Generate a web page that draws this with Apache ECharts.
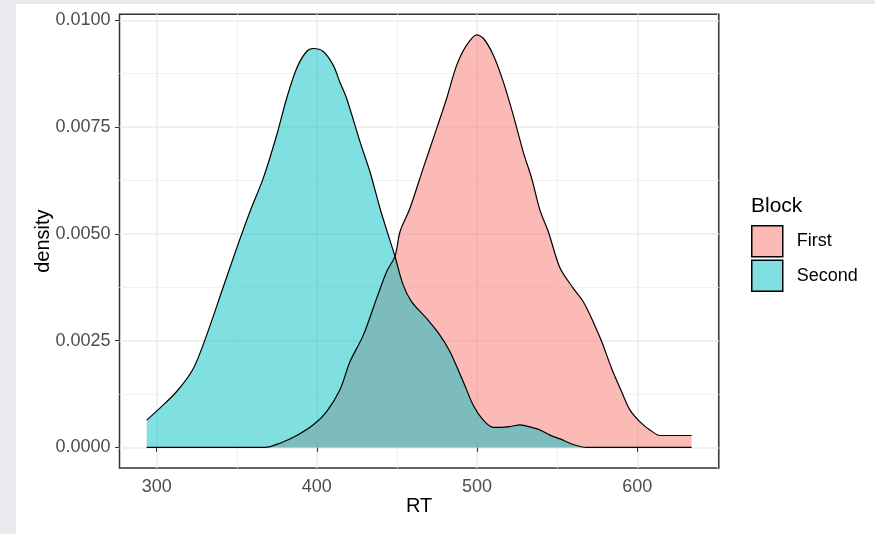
<!DOCTYPE html>
<html><head><meta charset="utf-8">
<script src="https://cdn.jsdelivr.net/npm/echarts@6/dist/echarts.min.js"></script>
<style>
html,body{margin:0;padding:0;background:#e9eaed;width:875px;height:534px;overflow:hidden}
#c{position:absolute;left:16px;top:4px;width:859px;height:530px;background:#fff}
</style></head><body><div id="c"></div>
<script>
// ---- data ----
const seriesNames = ['First', 'Second'];
const rtFirst = [293.8, 367.6, 377, 387.4, 397.8, 406.1, 414.4, 420.7, 429, 437.3, 443.6, 448.8, 451.9, 458.1, 466.4, 474.8, 481, 487.3, 493.5, 499.8, 503.9, 510.1, 516.4, 522.6, 528.8, 534.1, 539.3, 544.5, 551.8, 560, 566.3, 572.5, 577.8, 584, 590.2, 595.4, 601.7, 607.9, 614.2, 633.9];
const densFirst = [0, 0, 0.0001, 0.00028, 0.00053, 0.00084, 0.00135, 0.00201, 0.00263, 0.00349, 0.00412, 0.00448, 0.00505, 0.0056, 0.00654, 0.00747, 0.00817, 0.00895, 0.00942, 0.00966, 0.00958, 0.00919, 0.00856, 0.00778, 0.00692, 0.0063, 0.00555, 0.00505, 0.0042, 0.00373, 0.00341, 0.00294, 0.00248, 0.00185, 0.00131, 0.00088, 0.0006, 0.00041, 0.00028, 0.00028];
const rtSecond = [293.8, 302, 312.5, 322.9, 331.2, 340.6, 349.9, 358.2, 366.5, 374.9, 381.1, 387.4, 393.6, 397.8, 404, 410.2, 414.4, 418.6, 426.9, 433.1, 439.4, 444.6, 448.8, 453.9, 459.2, 468.5, 476.8, 483.1, 491.4, 497.6, 503.9, 510.1, 520.5, 526.8, 535.1, 539.3, 545.5, 551.8, 560, 568.4, 633.9];
const densSecond = [0.00064, 0.00092, 0.00131, 0.00185, 0.00263, 0.00365, 0.00466, 0.00552, 0.0063, 0.00731, 0.00817, 0.00888, 0.00927, 0.00934, 0.00927, 0.00895, 0.00855, 0.00817, 0.00716, 0.00646, 0.0056, 0.00497, 0.00447, 0.0038, 0.00341, 0.00302, 0.00263, 0.00224, 0.00154, 0.00099, 0.00064, 0.00047, 0.00049, 0.00053, 0.00046, 0.00041, 0.00029, 0.0002, 0.00007, 0, 0];
const xTicks = [300, 400, 500, 600];
const xMinorTicks = [350, 450, 550, 650];
const yTicks = [0, 0.0025, 0.005, 0.0075, 0.01];
const yMinorTicks = [0.00125, 0.00375, 0.00625, 0.00875];

// ---- styling ----
const FONT = "'Liberation Sans', Arial, sans-serif";
const fills = ['rgba(248,118,109,0.5)', 'rgba(0,191,196,0.5)'];
const xMin = 276.8, xMax = 650.9, yMin = -0.000483, yMax = 0.010143;

const chart = echarts.init(document.getElementById('c'), null, {renderer: 'canvas'});

function axisBase(min, max, ticks, fmt) {
  return {
    type: 'value', min: min, max: max,
    axisLine: {show: false},
    splitLine: {show: true, lineStyle: {color: '#ebebeb', width: 1.5}},
    axisTick: {show: true, customValues: ticks, length: 4.5, lineStyle: {color: '#333', width: 1}},
    axisLabel: {customValues: ticks, color: '#4d4d4d', fontSize: 18, fontFamily: FONT, formatter: fmt},
    nameMoveOverlap: false
  };
}
function minorAxis(min, max, ticks, pos) {
  return {
    type: 'value', min: min, max: max, position: pos,
    axisLine: {show: false},
    axisTick: {show: false, customValues: ticks},
    axisLabel: {show: false, customValues: ticks},
    splitLine: {show: true, lineStyle: {color: '#f2f2f2', width: 1}},
  };
}

const xMain = axisBase(xMin, xMax, xTicks, v => String(v));
xMain.axisLabel.margin = 10;
xMain.name = 'RT'; xMain.nameLocation = 'middle'; xMain.nameGap = 28;
xMain.nameTextStyle = {color: '#000', fontSize: 20, fontFamily: FONT};
const yMain = axisBase(yMin, yMax, yTicks, v => v.toFixed(4));
yMain.axisLabel.margin = 9;
yMain.name = 'density'; yMain.nameLocation = 'middle'; yMain.nameGap = 66; yMain.nameRotate = 90;
yMain.nameTextStyle = {color: '#000', fontSize: 20, fontFamily: FONT};

const dataFirst = rtFirst.map((x, i) => [x, densFirst[i]]);
const dataSecond = rtSecond.map((x, i) => [x, densSecond[i]]);

function areaSeries(name, data, fill) {
  return {
    type: 'line', name: name, data: data, xAxisIndex: 0, yAxisIndex: 0,
    showSymbol: false, symbol: 'none', smooth: 0.3,
    color: fill,
    lineStyle: {color: '#000', width: 1.2},
    areaStyle: {color: fill, opacity: 1},
    animation: false, z: 2
  };
}

chart.setOption({
  animation: false,
  textStyle: {fontFamily: FONT},
  title: {text: 'Block', left: 735, top: 192, padding: 0,
          textStyle: {fontSize: 21, fontWeight: 'normal', color: '#000', fontFamily: FONT}},
  grid: {left: 103.5, top: 10.2, right: 156.2, bottom: 65.9, show: true,
         borderColor: '#333', borderWidth: 1.5, backgroundColor: 'transparent'},
  xAxis: [xMain, minorAxis(xMin, xMax, xMinorTicks, 'top')],
  yAxis: [yMain, minorAxis(yMin, yMax, yMinorTicks, 'right')],
  legend: {
    left: 735, top: 221, padding: 0, orient: 'vertical',
    itemWidth: 31, itemHeight: 31, itemGap: 2, icon: 'rect',
    selectedMode: false,
    textStyle: {fontSize: 18, color: '#000', fontFamily: FONT, padding: [4, 0, 0, 9]},
    data: seriesNames.map((n, i) => ({name: n, icon: 'rect',
      itemStyle: {color: fills[i], borderColor: '#000', borderWidth: 1.5}}))
  },
  series: [
    areaSeries(seriesNames[0], dataFirst, fills[0]),
    areaSeries(seriesNames[1], dataSecond, fills[1])
  ]
});
</script></body></html>
